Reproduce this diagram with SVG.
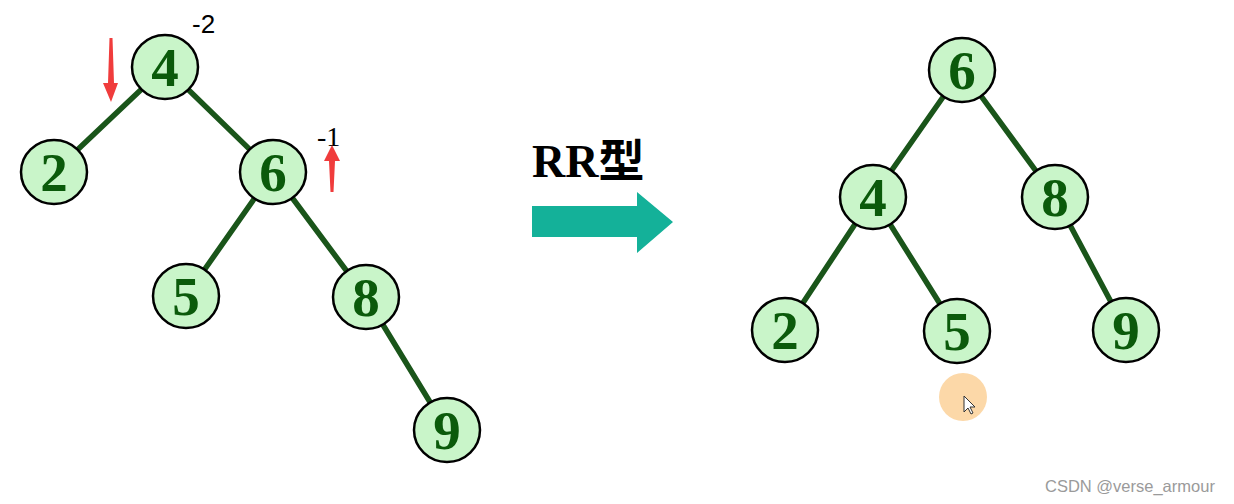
<svg xmlns="http://www.w3.org/2000/svg" width="1234" height="504" viewBox="0 0 1234 504">
<style>
.n ellipse{fill:#c9f5c9;stroke:#000;stroke-width:2.5}
.n text{font-family:"Liberation Serif",serif;font-weight:bold;font-size:55px;fill:#0b5a0b;text-anchor:middle}
.e line{stroke:#1a551a;stroke-width:5.5;stroke-linecap:round}
.ra{fill:#f03c3c}
</style>
<rect width="1234" height="504" fill="#fff"/>
<g class="e" id="connectors">
<line x1="165" y1="67" x2="54" y2="172"/>
<line x1="165" y1="67" x2="273" y2="172"/>
<line x1="273" y1="172" x2="186" y2="296"/>
<line x1="273" y1="172" x2="366" y2="297"/>
<line x1="366" y1="297" x2="447" y2="430"/>
<line x1="962" y1="70" x2="873" y2="197"/>
<line x1="962" y1="70" x2="1055" y2="197"/>
<line x1="873" y1="197" x2="785" y2="330"/>
<line x1="873" y1="197" x2="957" y2="331"/>
<line x1="1055" y1="197" x2="1126" y2="330"/>
</g>
<g class="n" id="L4"><ellipse cx="165" cy="67" rx="33" ry="32"/><text x="165" y="86">4</text></g>
<g class="n" id="L2"><ellipse cx="54" cy="172" rx="33" ry="32"/><text x="54" y="191">2</text></g>
<g class="n" id="L6"><ellipse cx="273" cy="172" rx="33" ry="32"/><text x="273" y="191">6</text></g>
<g class="n" id="L5"><ellipse cx="186" cy="296" rx="33" ry="32"/><text x="186" y="315">5</text></g>
<g class="n" id="L8"><ellipse cx="366" cy="297" rx="33" ry="32"/><text x="366" y="316">8</text></g>
<g class="n" id="L9"><ellipse cx="447" cy="430" rx="33" ry="32"/><text x="447" y="449">9</text></g>
<g class="n" id="R6"><ellipse cx="962" cy="70" rx="33" ry="32"/><text x="962" y="89">6</text></g>
<g class="n" id="R4"><ellipse cx="873" cy="197" rx="33" ry="32"/><text x="873" y="216">4</text></g>
<g class="n" id="R8"><ellipse cx="1055" cy="197" rx="33" ry="32"/><text x="1055" y="216">8</text></g>
<g class="n" id="R2"><ellipse cx="785" cy="330" rx="33" ry="32"/><text x="785" y="349">2</text></g>
<g class="n" id="R5"><ellipse cx="957" cy="331" rx="33" ry="32"/><text x="957" y="350">5</text></g>
<g class="n" id="R9"><ellipse cx="1126" cy="330" rx="33" ry="32"/><text x="1126" y="349">9</text></g>
<g id="marks">
<text x="192" y="33" font-family="Liberation Sans,sans-serif" font-size="26" fill="#000">-2</text>
<text x="317" y="146" font-family="Liberation Serif,serif" font-size="28" fill="#000">-1</text>
<polygon class="ra" points="109.5,38 112.5,38 114,83 118,83 111,102 103,83 108,83"/>
<polygon class="ra" points="332,145 340,161 335,161 333.5,192 330.5,192 329,161 324,161"/>
</g>
<g id="label">
<text x="532" y="177" font-family="Liberation Serif,'Noto Sans CJK SC',serif" font-weight="bold" font-size="46" fill="#000">RR型</text>
<polygon points="532,206 637,206 637,192 673,222 637,253 637,237 532,237" fill="#14b199"/>
</g>
<g id="cursor">
<circle cx="963" cy="397" r="24" fill="#fcd8a8"/>
<polygon points="964,396 964,412 968,408 971,414 973,413 970,407 975,407" fill="#fff" stroke="#333" stroke-width="1"/>
</g>
<text x="1045" y="492" font-family="Liberation Sans,sans-serif" font-size="16.5" fill="#9a9a9a">CSDN @verse_armour</text>
</svg>
